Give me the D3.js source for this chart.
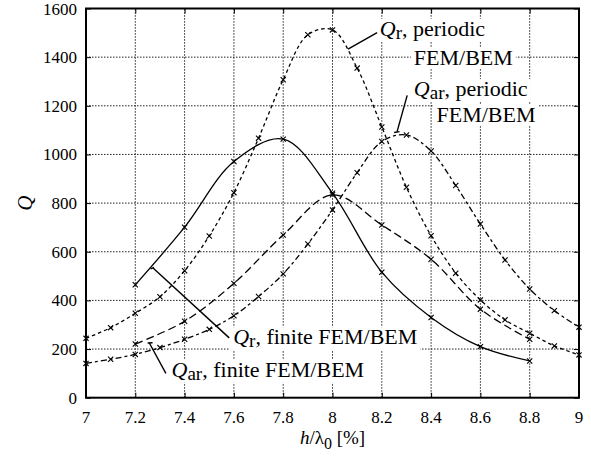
<!DOCTYPE html>
<html><head><meta charset="utf-8">
<script src="https://cdn.jsdelivr.net/npm/d3@7"></script>
</head><body style="margin:0">
<svg id="chart" width="591" height="461" font-family="Liberation Serif, Times New Roman, Tinos, serif"></svg>
<script>
// ---- data ----
const xTicks = [7, 7.2, 7.4, 7.6, 7.8, 8, 8.2, 8.4, 8.6, 8.8, 9];
const xTickLabels = ["7", "7.2", "7.4", "7.6", "7.8", "8", "8.2", "8.4", "8.6", "8.8", "9"];
const yTicks = [0, 200, 400, 600, 800, 1000, 1200, 1400, 1600];
const yTickLabels = ["0", "200", "400", "600", "800", "1000", "1200", "1400", "1600"];

const periodicX = [7.0, 7.1, 7.2, 7.3, 7.4, 7.5, 7.6, 7.7, 7.8, 7.9, 8.0, 8.1, 8.2, 8.3, 8.4, 8.5, 8.6, 8.7, 8.8, 8.9, 9.0];
const qrPeriodic = [244, 288, 347, 415, 522, 665, 843, 1067, 1307, 1492, 1512, 1355, 1113, 865, 666, 512, 402, 320, 265, 213, 176];
const qarPeriodic = [141, 158, 178, 206, 240, 281, 337, 416, 509, 632, 772, 925, 1053, 1080, 1014, 872, 714, 566, 447, 358, 290];

const finiteX = [7.2, 7.4, 7.6, 7.8, 8.0, 8.2, 8.4, 8.6, 8.8];
const qrFinite = [464, 701, 971, 1063, 841, 516, 330, 210, 151];
const qarFinite = [221, 314, 470, 669, 834, 710, 569, 364, 240];

// annotation text: italic Q + subscript + rest, positioned in data units
const annotations = [
  {lines: [{q: "r", rest: ", periodic", x: 8.192, y: 1488}, {rest: "FEM/BEM", x: 8.330, y: 1368}]},
  {lines: [{q: "ar", rest: ", periodic", x: 8.330, y: 1240}, {rest: "FEM/BEM", x: 8.422, y: 1134}]},
  {lines: [{q: "r", rest: ", finite FEM/BEM", x: 7.597, y: 220}]},
  {lines: [{q: "ar", rest: ", finite FEM/BEM", x: 7.347, y: 86}]}
];
const leaders = [
  [[[8.063, 1433], [8.181, 1501]]],
  [[[8.250, 1090], [8.272, 1094]], [[8.262, 1094], [8.303, 1243]]],
  [[[7.262, 530], [7.276, 536]], [[7.272, 533], [7.581, 246]]],
  [[[7.250, 225], [7.270, 226]], [[7.257, 225], [7.324, 100]]]
];

// ---- layout ----
const FONT = "Liberation Serif, Times New Roman, Tinos, serif";
const svg = d3.select("#chart");
const W = 591, H = 461;
const m = {left: 86, right: 12, top: 8.5, bottom: 63.3};
const x = d3.scaleLinear().domain([7, 9]).range([m.left, W - m.right]);
const y = d3.scaleLinear().domain([0, 1600]).range([H - m.bottom, m.top]);

function txt(sel, size) {
  return sel.append("text").attr("font-family", FONT).style("font-family", FONT).attr("font-size", size).style("font-size", size + "px");
}

// grid
const grid = svg.append("g").attr("stroke", "#222").attr("stroke-width", 1).attr("stroke-dasharray", "1.5,1.5");
xTicks.slice(1, -1).forEach(t => grid.append("line").attr("x1", x(t)).attr("x2", x(t)).attr("y1", y(0)).attr("y2", y(1600)));
yTicks.slice(1, -1).forEach(t => grid.append("line").attr("x1", x(7)).attr("x2", x(9)).attr("y1", y(t)).attr("y2", y(t)));

const bgLayer = svg.append("g");

// axes with inner ticks (labels drawn as plain text)
function style(sel) {
  sel.attr("font-family", null).attr("font-size", null);
  sel.select(".domain").remove();
  sel.selectAll("text").remove();
  sel.selectAll("line").attr("stroke", "#000").attr("stroke-width", 1);
}
svg.append("g").attr("transform", `translate(0,${y(0)})`).call(d3.axisBottom(x).tickValues(xTicks).tickSize(-5).tickFormat("")).call(style);
svg.append("g").attr("transform", `translate(${x(7)},0)`).call(d3.axisLeft(y).tickValues(yTicks).tickSize(-5).tickFormat("")).call(style);
svg.append("g").attr("transform", `translate(0,${y(1600)})`).call(d3.axisTop(x).tickValues(xTicks).tickSize(-5).tickFormat("")).call(style);
svg.append("g").attr("transform", `translate(${x(9)},0)`).call(d3.axisRight(y).tickValues(yTicks).tickSize(-5).tickFormat("")).call(style);

xTicks.forEach((t, i) => {
  txt(svg, 17).attr("x", x(t)).attr("y", y(0) + 25.5).attr("text-anchor", "middle").text(xTickLabels[i]);
});
yTicks.forEach((t, i) => {
  txt(svg, 17).attr("x", x(7) - 9).attr("y", y(t) + 6).attr("text-anchor", "end").text(yTickLabels[i]);
});

// frame
svg.append("rect").attr("x", x(7)).attr("y", y(1600)).attr("width", x(9) - x(7)).attr("height", y(0) - y(1600))
  .attr("fill", "none").attr("stroke", "#000").attr("stroke-width", 2);

// curves
const line = d3.line().x(d => x(d[0])).y(d => y(d[1])).curve(d3.curveCatmullRom.alpha(0.5));
const series = [
  {xs: finiteX, ys: qrFinite, dash: null},
  {xs: finiteX, ys: qarFinite, dash: "8,4"},
  {xs: periodicX, ys: qrPeriodic, dash: "3.5,3"},
  {xs: periodicX, ys: qarPeriodic, dash: "6,3,3,3"}
];
series.forEach(s => {
  const pts = s.xs.map((v, i) => [v, s.ys[i]]);
  svg.append("path").datum(pts).attr("d", line).attr("fill", "none").attr("stroke", "#000")
    .attr("stroke-width", 1.3).attr("stroke-dasharray", s.dash);
  const mk = svg.append("g").attr("stroke", "#000").attr("stroke-width", 1.1);
  pts.forEach(p => {
    const cx = x(p[0]), cy = y(p[1]), r = 2.6;
    mk.append("path").attr("d", `M${cx - r},${cy - r}L${cx + r},${cy + r}M${cx - r},${cy + r}L${cx + r},${cy - r}`);
  });
});

// leaders
leaders.forEach(segs => segs.forEach(s => {
  svg.append("line").attr("x1", x(s[0][0])).attr("y1", y(s[0][1])).attr("x2", x(s[1][0])).attr("y2", y(s[1][1]))
    .attr("stroke", "#000").attr("stroke-width", 1.4);
}));

// annotation texts with white backgrounds
annotations.forEach(a => a.lines.forEach(l => {
  const t = txt(svg, 22).attr("x", x(l.x)).attr("y", y(l.y));
  if (l.q) {
    t.append("tspan").attr("font-style", "italic").text("Q");
    t.append("tspan").attr("font-size", 19).style("font-size", "19px").attr("dy", 3).text(l.q);
    t.append("tspan").attr("dy", -3).text(l.rest);
  } else {
    t.text(l.rest);
  }
  const b = t.node().getBBox();
  bgLayer.append("rect").attr("x", b.x - 3).attr("y", b.y + 3).attr("width", b.width + 6).attr("height", b.height - 4).attr("fill", "#fff");
}));

// axis titles
txt(svg, 21).attr("transform", `translate(${32},${(y(0) + y(1600)) / 2}) rotate(-90)`)
  .attr("text-anchor", "middle").attr("font-style", "italic").text("Q");
const xl = txt(svg, 19).attr("x", (x(7) + x(9)) / 2).attr("y", 444).attr("text-anchor", "middle");
xl.append("tspan").attr("font-style", "italic").text("h");
xl.append("tspan").text("/λ");
xl.append("tspan").attr("font-size", 16).style("font-size", "16px").attr("dy", 5).text("0");
xl.append("tspan").attr("dy", -5).text(" [%]");
</script>
</body></html>
